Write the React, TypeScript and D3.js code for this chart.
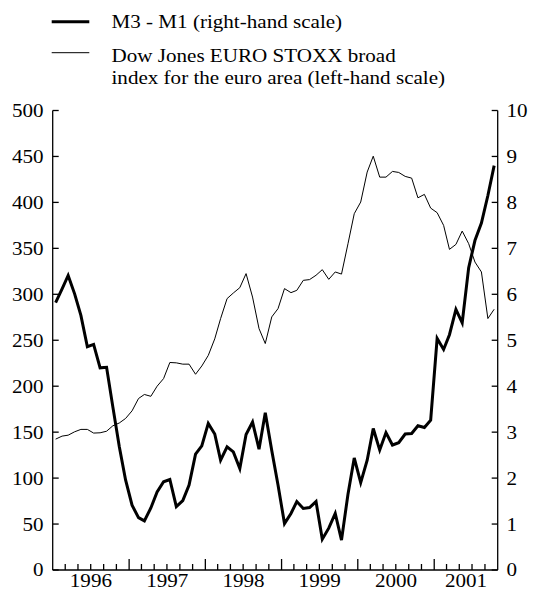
import React from "react";
import * as d3 from "d3";

const m3m1: number[] = [
  5.82, 6.12, 6.41, 6.01, 5.54, 4.86, 4.91, 4.4, 4.41, 3.55, 2.68, 1.96,
  1.41, 1.14, 1.07, 1.35, 1.7, 1.92, 1.97, 1.38, 1.51, 1.85, 2.52, 2.7,
  3.19, 2.96, 2.39, 2.68, 2.57, 2.21, 2.95, 3.22, 2.63, 3.42, 2.6, 1.85,
  1.01, 1.23, 1.49, 1.34, 1.36, 1.49, 0.67, 0.91, 1.23, 0.65, 1.65, 2.44,
  1.9, 2.39, 3.08, 2.61, 2.99, 2.72, 2.77, 2.96, 2.97, 3.14, 3.1, 3.26,
  5.04, 4.8, 5.12, 5.67, 5.38, 6.58, 7.17, 7.55, 8.15, 8.8,
];

const stoxx: number[] = [
  142.4, 145.7, 146.7, 150.4, 153, 153, 149, 149.3, 151, 156.9, 160, 164.9,
  173.2, 186.6, 191, 189, 200, 208.3, 225.8, 225.4, 224, 224, 213, 222,
  233.5, 251.5, 273.5, 295.3, 301.4, 307.2, 322.5, 297, 262.7, 246.4, 275.4, 284.4,
  306.2, 301.8, 304.3, 315.2, 316, 320.7, 326.8, 316.3, 324.3, 322, 355, 387.7,
  400.4, 433, 450.3, 427.5, 427.5, 433.7, 432.6, 428.3, 426.4, 405, 408.7, 393.8,
  388.8, 375, 348.9, 354.3, 368.8, 355.1, 335.1, 324.3, 273.6, 283.7,
];

const leftTicks: number[] = [0, 50, 100, 150, 200, 250, 300, 350, 400, 450, 500];
const rightTicks: number[] = [0, 1, 2, 3, 4, 5, 6, 7, 8, 9, 10];
const years: number[] = [1996, 1997, 1998, 1999, 2000, 2001];
const legendThick = "M3 - M1 (right-hand scale)";
const legendThin1 = "Dow Jones EURO STOXX broad";
const legendThin2 = "index for the euro area (left-hand scale)";

const W = 539;
const H = 590;
const textStyle = { fontFamily: "Liberation Serif, DejaVu Serif, serif", fontSize: "19px" };
const SX = 1.11;

function T(props: { x: number; y: number; anchor?: string; dy?: string; children: React.ReactNode }) {
  return (
    <text
      transform={`translate(${props.x},${props.y}) scale(${SX},1)`}
      dy={props.dy}
      textAnchor={props.anchor ?? "start"}
      style={textStyle}
      fill="#000"
    >
      {props.children}
    </text>
  );
}

export default function App() {
  const start = new Date(1996, 0, 1);
  const end = new Date(2001, 10, 1);
  const x = d3.scaleTime().domain([start, end]).range([52.7, 497.7]);
  const yL = d3.scaleLinear().domain([0, 500]).range([570, 110.5]);
  const yR = d3.scaleLinear().domain([0, 10]).range([570, 110.5]);
  const date = (i: number) => new Date(1996, i, 15);

  const lineR = d3
    .line<number>()
    .x((_, i) => x(date(i)))
    .y((d) => yR(d));
  const lineL = d3
    .line<number>()
    .x((_, i) => x(date(i)))
    .y((d) => yL(d));

  const months = d3.timeMonth.every(2)!.range(new Date(1996, 2, 1), end);
  const x0 = x.range()[0];
  const x1 = x.range()[1];
  const y0 = yL(0);
  const yTop = yL(500);

  return (
    <svg
      width={W}
      height={H}
      style={{ position: "absolute", left: 0, top: 0, background: "#fff" }}
    >
      <rect width={W} height={H} fill="#fff" />
      {/* legend */}
      <line x1={51.7} x2={89.3} y1={21.7} y2={21.7} stroke="#000" strokeWidth={3} />
      <T x={111.5} y={28.3}>{legendThick}</T>
      <line x1={51.7} x2={89.3} y1={52.7} y2={52.7} stroke="#000" strokeWidth={1} />
      <T x={111.5} y={62}>{legendThin1}</T>
      <T x={111.5} y={84}>{legendThin2}</T>

      {/* axes */}
      <g stroke="#000" strokeWidth={1.3} fill="none">
        <line x1={x0} x2={x0} y1={yTop} y2={y0} />
        <line x1={x1} x2={x1} y1={yTop} y2={y0} />
        <line x1={x0} x2={x1} y1={y0} y2={y0} />
        {leftTicks.map((t) => (
          <line key={"l" + t} x1={x0} x2={x0 + 6} y1={yL(t)} y2={yL(t)} />
        ))}
        {rightTicks.map((t) => (
          <line key={"r" + t} x1={x1} x2={x1 - 6} y1={yR(t)} y2={yR(t)} />
        ))}
        {months.map((m) => (
          <line
            key={"m" + m.getTime()}
            x1={x(m)}
            x2={x(m)}
            y1={y0}
            y2={y0 - (m.getMonth() === 0 ? 11 : 6)}
          />
        ))}
      </g>
      <g>
        {leftTicks.map((t) => (
          <T key={"lt" + t} x={43.5} y={yL(t)} dy="0.34em" anchor="end">
            {t}
          </T>
        ))}
        {rightTicks.map((t) => (
          <T key={"rt" + t} x={506.5} y={yR(t)} dy="0.34em">
            {t}
          </T>
        ))}
        {years.map((yv) => {
          const a = Math.max(x(new Date(yv, 0, 1)), x0);
          const b = Math.min(x(new Date(yv + 1, 0, 1)), x1);
          return (
            <T key={"y" + yv} x={(a + b) / 2} y={587} anchor="middle">
              {yv}
            </T>
          );
        })}
      </g>

      {/* series */}
      <path d={lineL(stoxx) ?? ""} fill="none" stroke="#000" strokeWidth={1} />
      <path d={lineR(m3m1) ?? ""} fill="none" stroke="#000" strokeWidth={3} />
    </svg>
  );
}
